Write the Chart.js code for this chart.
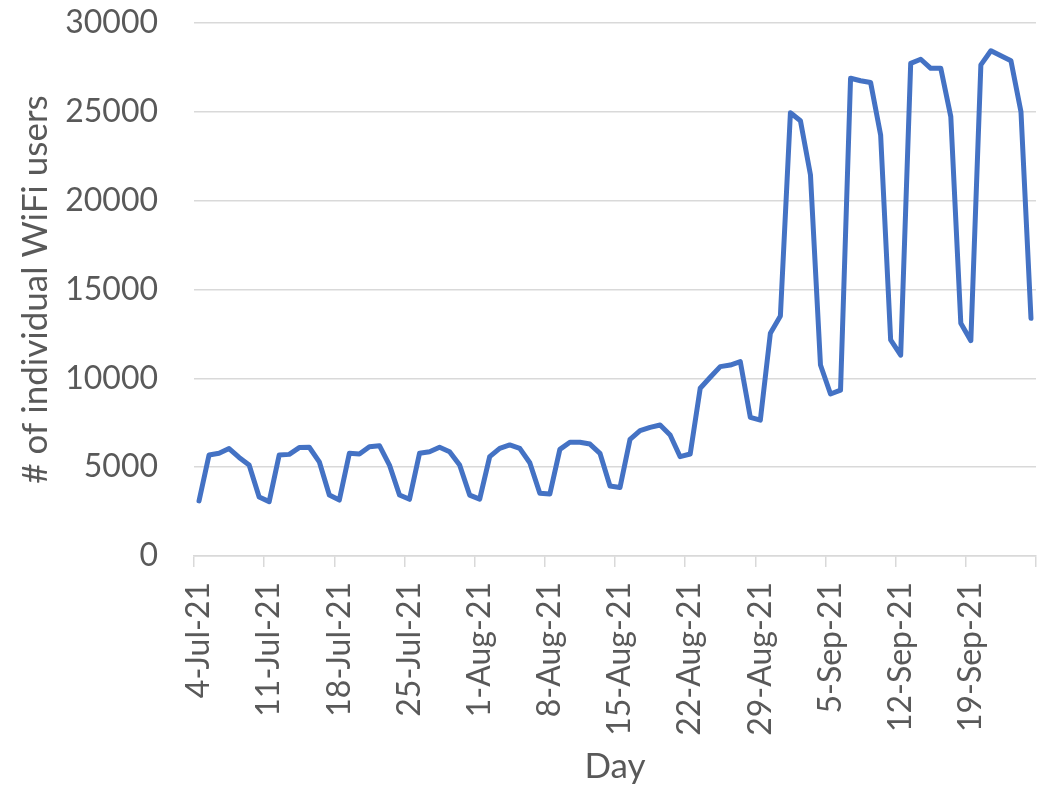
<!DOCTYPE html>
<html>
<head>
<meta charset="utf-8">
<title>Individual WiFi users per day</title>
<script src="https://cdn.jsdelivr.net/npm/chart.js@4.4.1/dist/chart.umd.min.js"></script>
<style>
  body { margin: 0; background: #fff; }
  canvas { display: block; }
</style>
</head>
<body>
<canvas id="wifi-chart" width="1050" height="788"></canvas>
<script>
// one entry per day, 4 Jul - 25 Sep 2021
const days = [
  '4-Jul-21', '5-Jul-21', '6-Jul-21', '7-Jul-21', '8-Jul-21', '9-Jul-21', '10-Jul-21',
  '11-Jul-21', '12-Jul-21', '13-Jul-21', '14-Jul-21', '15-Jul-21', '16-Jul-21', '17-Jul-21',
  '18-Jul-21', '19-Jul-21', '20-Jul-21', '21-Jul-21', '22-Jul-21', '23-Jul-21', '24-Jul-21',
  '25-Jul-21', '26-Jul-21', '27-Jul-21', '28-Jul-21', '29-Jul-21', '30-Jul-21', '31-Jul-21',
  '1-Aug-21', '2-Aug-21', '3-Aug-21', '4-Aug-21', '5-Aug-21', '6-Aug-21', '7-Aug-21',
  '8-Aug-21', '9-Aug-21', '10-Aug-21', '11-Aug-21', '12-Aug-21', '13-Aug-21', '14-Aug-21',
  '15-Aug-21', '16-Aug-21', '17-Aug-21', '18-Aug-21', '19-Aug-21', '20-Aug-21', '21-Aug-21',
  '22-Aug-21', '23-Aug-21', '24-Aug-21', '25-Aug-21', '26-Aug-21', '27-Aug-21', '28-Aug-21',
  '29-Aug-21', '30-Aug-21', '31-Aug-21', '1-Sep-21', '2-Sep-21', '3-Sep-21', '4-Sep-21',
  '5-Sep-21', '6-Sep-21', '7-Sep-21', '8-Sep-21', '9-Sep-21', '10-Sep-21', '11-Sep-21',
  '12-Sep-21', '13-Sep-21', '14-Sep-21', '15-Sep-21', '16-Sep-21', '17-Sep-21', '18-Sep-21',
  '19-Sep-21', '20-Sep-21', '21-Sep-21', '22-Sep-21', '23-Sep-21', '24-Sep-21', '25-Sep-21'
];

// number of individual WiFi users seen each day
const users = [
  3100, 5680, 5780, 6050, 5550, 5120, 3320,
  3060, 5680, 5720, 6100, 6120, 5300, 3430,
  3150, 5780, 5740, 6150, 6210, 5120, 3430,
  3190, 5780, 5870, 6120, 5870, 5120, 3430,
  3200, 5590, 6060, 6250, 6060, 5250, 3530,
  3490, 6000, 6400, 6400, 6300, 5780, 3940,
  3860, 6570, 7060, 7240, 7370, 6810, 5590,
  5740, 9440, 10060, 10660, 10750, 10940, 7800,
  7650, 12540, 13510, 24950, 24500, 21450, 10750,
  9120, 9340, 26890, 26750, 26650, 23700, 12160,
  11310, 27730, 27960, 27450, 27450, 24730, 13100,
  12120, 27640, 28440, 28160, 27880, 25010, 13380
];

const yTicks = [0, 5000, 10000, 15000, 20000, 25000, 30000];
const labelEvery = 7; // weekly date labels

const textColor = '#595959';
const lineColor = '#D9D9D9';
const tickFont = { family: 'Lato', size: 32 };
const titleFont = { family: 'Lato', size: 35 };

// keep the plot box where the layout padding puts it
function noScalePadding(s) {
  s.paddingLeft = s.paddingRight = s.paddingTop = s.paddingBottom = 0;
}

new Chart(document.getElementById('wifi-chart').getContext('2d'), {
  type: 'line',
  data: {
    labels: days,
    datasets: [{
      data: users,
      borderColor: '#4472C4',
      borderWidth: 5,
      borderJoinStyle: 'round',
      borderCapStyle: 'round',
      pointRadius: 0,
      tension: 0,
      fill: false
    }]
  },
  options: {
    responsive: false,
    animation: false,
    layout: { padding: { left: 0, right: 14, top: 23, bottom: 0 } },
    plugins: {
      legend: { display: false },
      tooltip: { enabled: false }
    },
    scales: {
      x: {
        offset: true,
        grid: {
          offset: true,
          drawOnChartArea: false,
          tickLength: 11,
          lineWidth: 1.5,
          color: c => (c.index === undefined || c.index % labelEvery === 0) ? lineColor : 'rgba(0,0,0,0)'
        },
        border: { color: lineColor, width: 1.5 },
        ticks: {
          autoSkip: false,
          minRotation: 90,
          maxRotation: 90,
          padding: 15,
          color: textColor,
          font: tickFont,
          callback: (v, i) => i % labelEvery === 0 ? days[i] : ''
        },
        title: {
          display: true,
          text: 'Day',
          color: textColor,
          font: titleFont,
          padding: { top: 0, bottom: 0 }
        },
        afterFit: s => { s.height = 232; noScalePadding(s); }
      },
      y: {
        min: yTicks[0],
        max: yTicks[yTicks.length - 1],
        afterBuildTicks: s => { s.ticks = yTicks.map(v => ({ value: v })); },
        grid: { color: lineColor, lineWidth: 1.5, drawTicks: false },
        border: { display: false },
        ticks: {
          padding: 36,
          color: textColor,
          font: tickFont,
          callback: v => String(v)
        },
        title: {
          display: true,
          text: '# of individual WiFi users',
          color: textColor,
          font: titleFont,
          padding: { top: 15, bottom: 0 }
        },
        afterFit: s => { s.width = 194; noScalePadding(s); }
      }
    }
  }
});
</script>
</body>
</html>
